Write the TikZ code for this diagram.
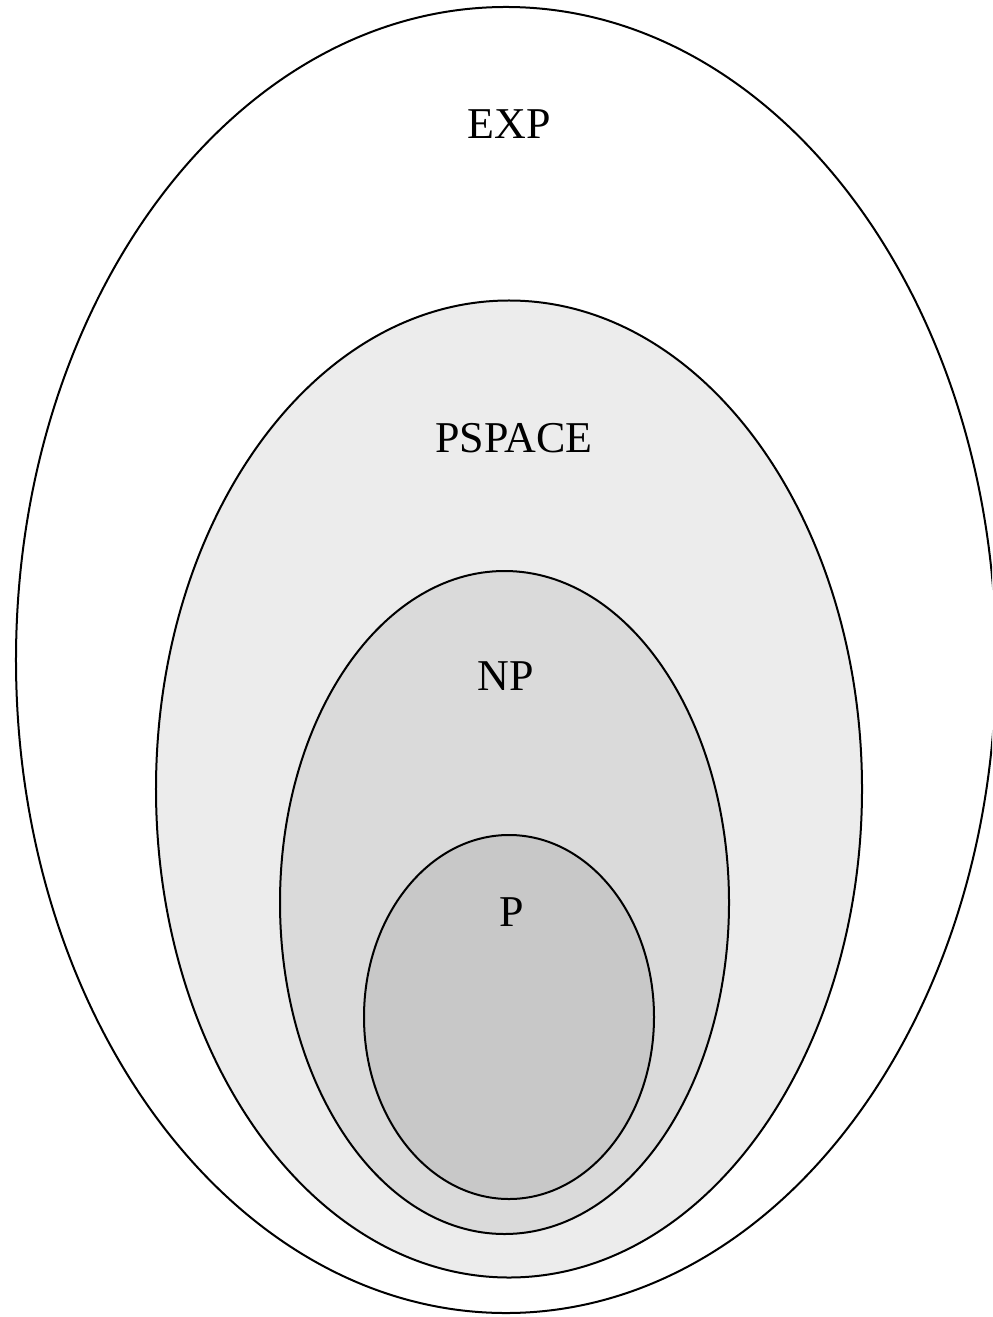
\documentclass[tikz,border=0pt]{standalone}
\usepackage{fontspec}
\setmainfont{Liberation Serif}
\usetikzlibrary{shapes.geometric}
\definecolor{pspacefill}{HTML}{ECECEC}
\definecolor{npfill}{HTML}{DADADA}
\definecolor{pfill}{HTML}{C8C8C8}
\tikzset{
  cls/.style={draw=black, line width=2bp, ellipse, inner sep=0pt, outer sep=0pt},
  lbl/.style={font=\fontsize{44bp}{50bp}\selectfont, inner sep=0pt, anchor=center}
}
\begin{document}
\begin{tikzpicture}[x=1bp,y=-1bp]
\useasboundingbox (0,0) rectangle (992,1317);
\clip (0,0) rectangle (992,1317);
\fill[white] (0,0) rectangle (992,1317);
\node[cls, fill=white, minimum width=980bp, minimum height=1306bp] (exp) at (506,660) {};
\node[cls, fill=pspacefill, minimum width=706bp, minimum height=977bp] (pspace) at (509,789) {};
\node[cls, fill=npfill, minimum width=449bp, minimum height=663bp] (np) at (504.5,902.5) {};
\node[cls, fill=pfill, minimum width=290bp, minimum height=364bp] (p) at (509,1017) {};
\node[lbl] (expl) at (509,124) {EXP};
\node[lbl] (pspacel) at (514,438) {PSPACE};
\node[lbl] (npl) at (506,676) {NP};
\node[lbl] (pl) at (512,912) {P};
\end{tikzpicture}
\end{document}
